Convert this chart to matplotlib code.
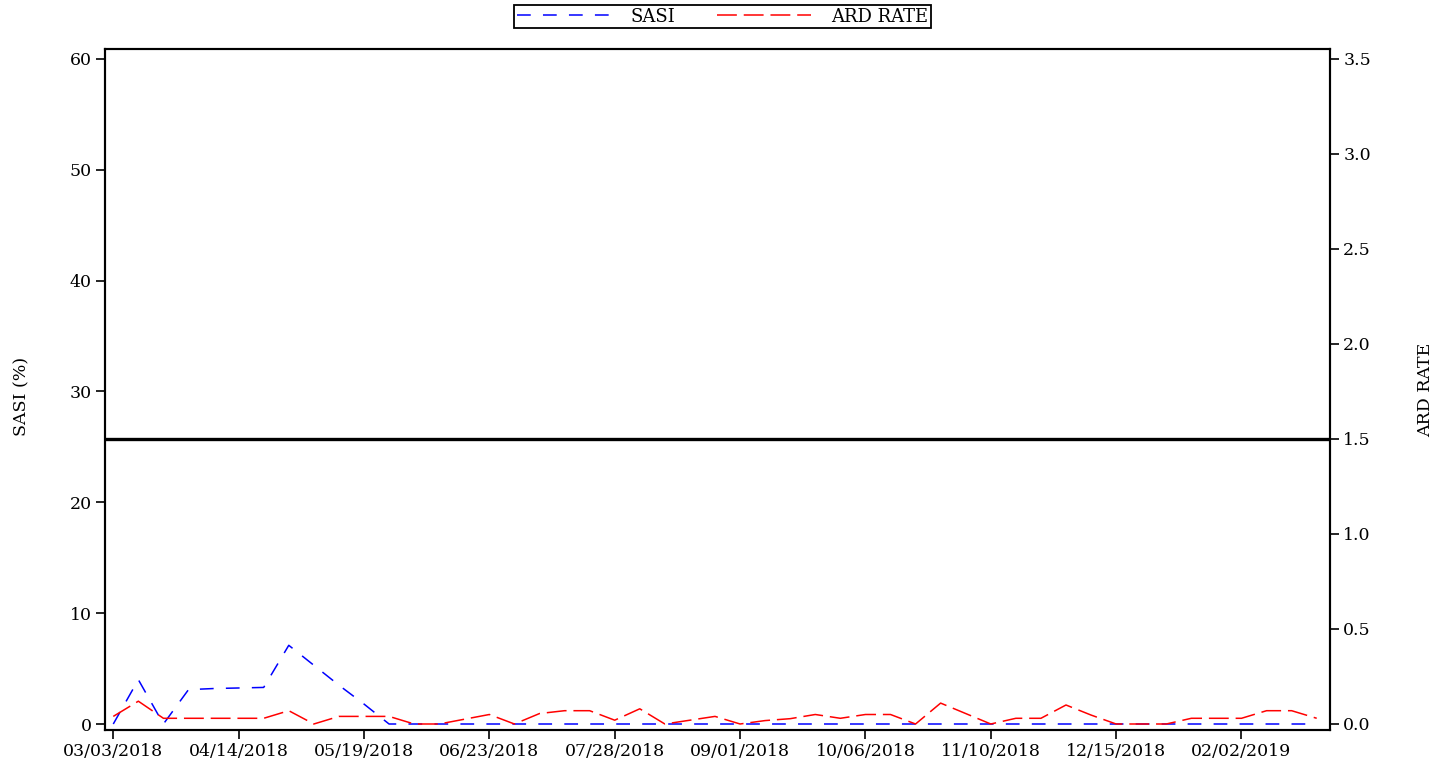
import numpy as np
import matplotlib
matplotlib.use('Agg')
import matplotlib.pyplot as plt

plt.rcParams['font.family'] = ['DejaVu Serif']

# weekly points (categorical axis), every 5th one labelled
tick_labels = ['03/03/2018', '04/14/2018', '05/19/2018', '06/23/2018', '07/28/2018',
               '09/01/2018', '10/06/2018', '11/10/2018', '12/15/2018', '02/02/2019']
sasi = [0, 4.0, 0, 3.1, 3.2, 3.25, 3.3, 7.1, 5.3, 3.5, 1.8, 0, 0,
        0, 0, 0, 0, 0, 0, 0, 0, 0, 0, 0, 0, 0, 0, 0, 0, 0, 0, 0, 0,
        0, 0, 0, 0, 0, 0, 0, 0, 0, 0, 0, 0, 0, 0, 0, 0]
ard = [0.04, 0.12, 0.03, 0.03, 0.03, 0.03, 0.03, 0.07, 0.0, 0.04, 0.04, 0.04, 0.0,
       0.0, 0.025, 0.05, 0.0, 0.055, 0.07, 0.07, 0.02, 0.08, 0.0, 0.02, 0.04, 0.0,
       0.018, 0.028, 0.05, 0.03, 0.05, 0.05, 0.0, 0.11, 0.055, 0.0, 0.03, 0.03,
       0.1, 0.047, 0.0, 0.0, 0.0, 0.03, 0.03, 0.03, 0.07, 0.07, 0.03]
threshold = 1.5

x = np.arange(len(sasi))
fs = 12.5

fig = plt.figure(figsize=(14.45, 7.65), dpi=100)
ax = fig.add_axes([105/1445, 35/765, 1225/1445, 681/765])
ax2 = ax.twinx()

l1, = ax.plot(x, sasi, color='blue', lw=1.1, dashes=(9, 8), label='SASI')
l2, = ax2.plot(x, ard, color='red', lw=1.1, dashes=(13, 4.5), label='ARD RATE')
ax2.axhline(threshold, color='black', lw=2.4)

ax.set_xlim(-0.33, 48.53)
ax.set_ylim(-0.541, 60.9)
ax2.set_ylim(-0.0316, 3.5526)

ax.set_xticks(x[::5])
ax.set_xticklabels(tick_labels)
ax.set_yticks(range(0, 61, 10))
ax2.set_yticks(np.arange(0, 3.51, 0.5))
ax2.set_yticklabels(['%.1f' % v for v in np.arange(0, 3.51, 0.5)])

for a in (ax, ax2):
    a.tick_params(direction='out', length=6.5, width=1.2, labelsize=fs, pad=3, colors='black')
    for s in a.spines.values():
        s.set_linewidth(1.5)

ax.set_ylabel('SASI (%)', fontsize=fs)
ax.yaxis.set_label_coords(-0.061, 0.49)
ax2.set_ylabel('ARD RATE', fontsize=fs)
ax2.yaxis.set_label_coords(1.0715, 0.5)

leg = ax.legend([l1, l2], ['SASI', 'ARD RATE'], ncol=2, loc='upper center',
                bbox_to_anchor=(0.5, 1 - 5/765), bbox_transform=fig.transFigure,
                fontsize=13, fancybox=False, edgecolor='black', framealpha=1,
                handlelength=5.2, handletextpad=1.1, columnspacing=2.3,
                borderpad=0.15, borderaxespad=0)
leg.get_frame().set_linewidth(1.3)

fig.savefig('out.png', dpi=100)
